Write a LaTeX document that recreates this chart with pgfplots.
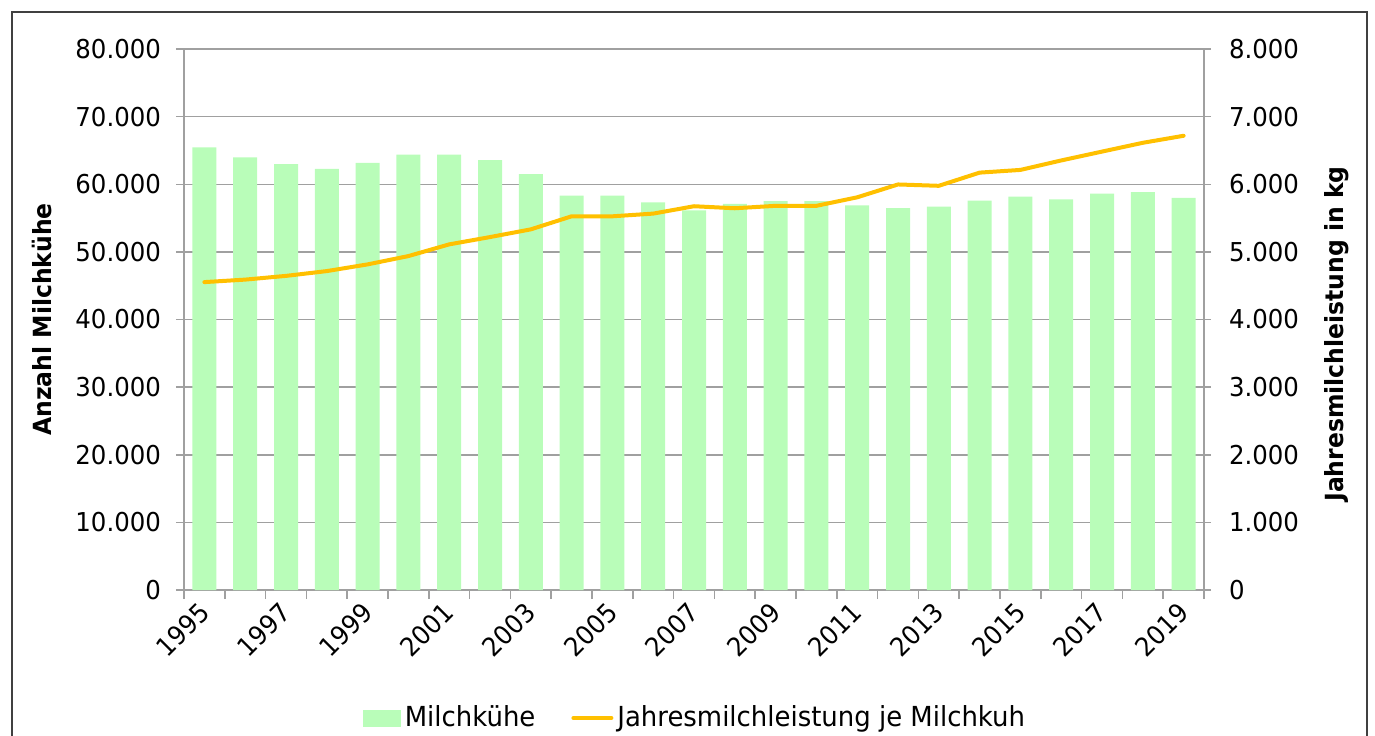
\documentclass[border=0pt]{standalone}
\usepackage{fontspec}
\setmainfont{DejaVu Sans}[FakeStretch=0.94]
\usepackage{pgfplots}
\pgfplotsset{compat=1.18}
\definecolor{barg}{RGB}{185,253,185}
\definecolor{lineo}{RGB}{255,192,0}
\definecolor{axg}{RGB}{160,160,160}
\definecolor{frm}{RGB}{64,64,64}
\pgfplotstableread{
x cows
0 65440
1 63960
2 62960
3 62270
4 63160
5 64400
6 64400
7 63560
8 61480
9 58320
10 58320
11 57330
12 56150
13 57110
14 57510
15 57510
16 56870
17 56460
18 56710
19 57570
20 58170
21 57770
22 58620
23 58820
24 57970
}\cowtable
\pgfplotstableread{
x milk
0 4553
1 4590
2 4645
3 4716
4 4815
5 4938
6 5111
7 5219
8 5333
9 5526
10 5526
11 5566
12 5675
13 5645
14 5681
15 5681
16 5807
17 5997
18 5977
19 6172
20 6212
21 6352
22 6483
23 6613
24 6717
}\milktable
\begin{document}
\begin{tikzpicture}
\path[use as bounding box] (0,0) rectangle (687.5pt,367.5pt);
\draw[frm, line width=1pt] (6pt,-2pt) -- (6pt,361.5pt) -- (683.5pt,361.5pt) -- (683.5pt,-2pt);
\pgfplotsset{
  mybase/.style={
    at={(92pt,72.5pt)}, anchor=south west, scale only axis,
    width=510pt, height=270.5pt,
    xmin=-0.5, xmax=24.5,
    tick align=outside,
    axis line style={axg, line width=0.75pt},
    every tick/.style={axg, line width=0.75pt},
    tick label style={font=\fontsize{13}{15}\selectfont},
    /pgf/number format/assume math mode=true,
    /pgf/number format/1000 sep={.},
    scaled ticks=false,
    label style={font=\bfseries\fontsize{12.5}{15}\selectfont},
  }
}
\begin{axis}[
  mybase,
  ymin=0, ymax=80000,
  axis x line*=bottom, axis y line*=left,
  ytick={0,10000,...,80000},
  ymajorgrids, grid style={axg, line width=0.75pt},
  xtick={0,2,...,24},
  xticklabels={1995,1997,1999,2001,2003,2005,2007,2009,2011,2013,2015,2017,2019},
  major x tick style={draw=none},
  minor xtick={-0.5,0.5,...,24.5},
  minor tick length=4.5pt,
  major tick length=4pt,
  xticklabel style={inner sep=0pt, xshift=-3.5pt, yshift=-1pt, rotate=45, anchor=north east},
  yticklabel style={xshift=-4pt},
  ylabel={Anzahl Milchkühe},
  ylabel style={at={(axis description cs:-0.139,0.5)}, anchor=center},
]
\addplot[ybar, bar width=12pt, fill=barg, draw=none, bar shift=0pt] table[x=x,y=cows] {\cowtable};
\end{axis}
\begin{axis}[
  mybase,
  ymin=0, ymax=8000,
  axis x line=none, axis y line*=right,
  ytick={0,1000,...,8000},
  major tick length=3.5pt,
  yticklabel style={xshift=5.5pt},
  ylabel={Jahresmilchleistung in kg},
  ylabel style={at={(axis description cs:1.1304,0.473)}, anchor=center},
  legend columns=2,
  legend style={draw=none, fill=none, at={(axis description cs:0.502,-0.2366)}, anchor=center,
    font=\fontsize{13.8}{15}\selectfont,
    /tikz/every even column/.append style={column sep=16pt}},
]
\addlegendimage{legend image code/.code={\fill[barg] (0pt,-4pt) rectangle (18.5pt,4pt);}}
\addlegendentry{Milchkühe}
\addplot[lineo, line width=2pt, mark=none, line join=round, line cap=round,
  legend image code/.code={\draw[lineo, line width=2pt, line cap=round] (0.5pt,0pt) -- (19.5pt,0pt);}] table[x=x,y=milk] {\milktable};
\addlegendentry{Jahresmilchleistung je Milchkuh}
\end{axis}
\end{tikzpicture}
\end{document}
